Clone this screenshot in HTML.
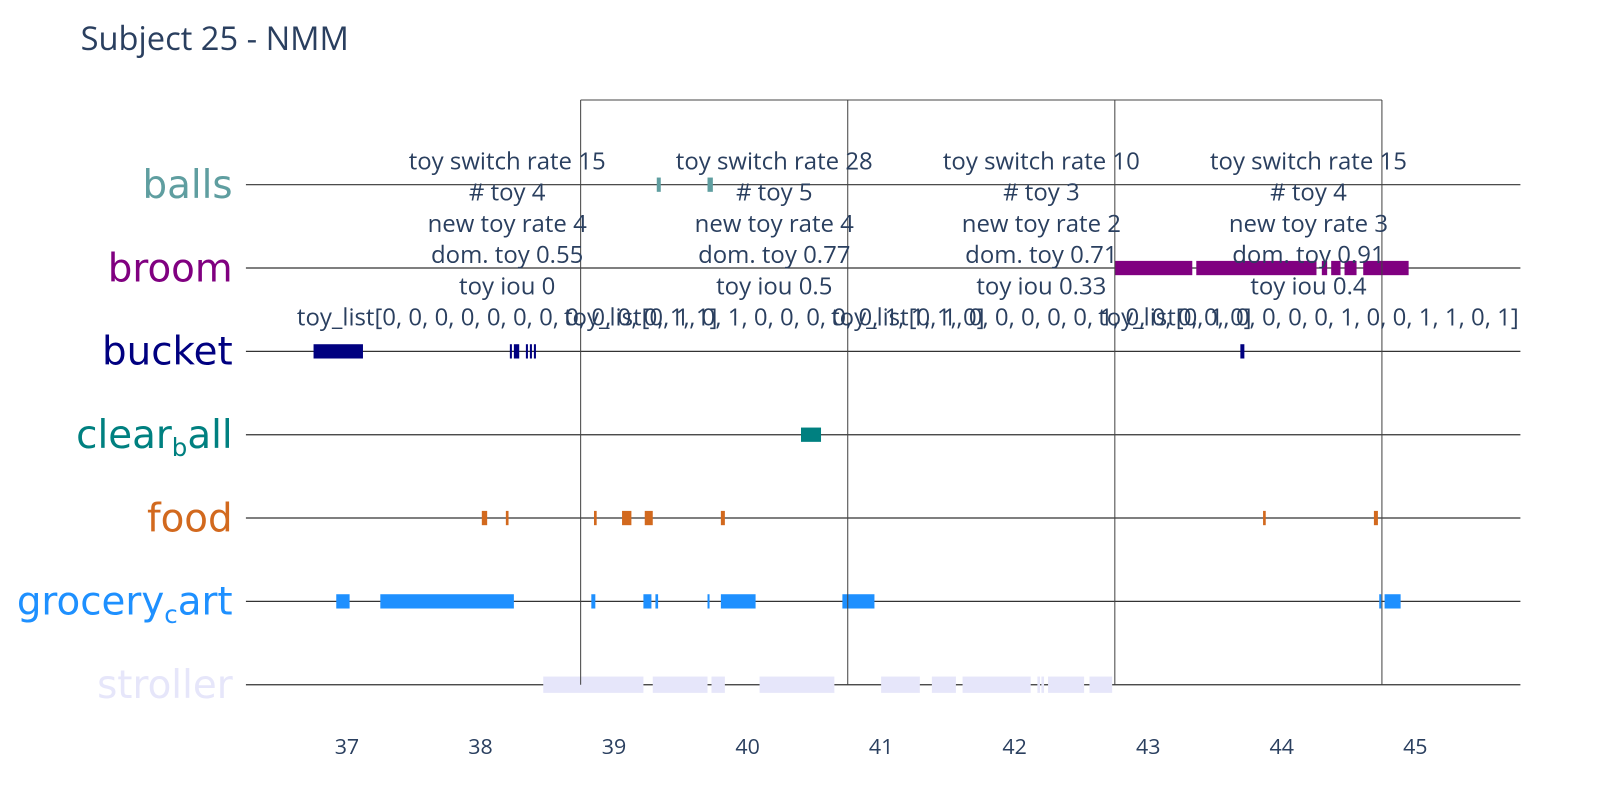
<!DOCTYPE html>
<html><head><meta charset="utf-8">
<style>
body{margin:0;background:#fff;}
svg{display:block;font-family:"Open Sans","Liberation Sans","DejaVu Sans",sans-serif;}
</style></head>
<body>
<svg id="chart" width="1600" height="800" viewBox="0 0 1568 784" xmlns="http://www.w3.org/2000/svg">
<text x="79" y="49" font-size="32" fill="#2a3f5f">Subject 25 - NMM</text>
<g id="grid"></g>
<g id="bars"></g>
<g id="boxes"></g>
<g id="annots"></g>
<g id="ylabels"></g>
<g id="xticks"></g>
</svg>
<script>
const categories = ["balls","broom","bucket","clear_ball","food","grocery_cart","stroller"];
const catColors = ["#5f9ea0","#800080","#000080","#008080","#d2691e","#1e90ff","#e6e6fa"];
const ballsSegs = [[39.32,39.35],[39.70,39.74]];
const broomSegs = [[42.75,43.33],[43.36,44.26],[44.30,44.34],[44.37,44.44],[44.47,44.56],[44.61,44.95]];
const bucketSegs = [[36.75,37.12],[38.22,38.23],[38.25,38.29],[38.34,38.35],[38.37,38.38],[38.40,38.41],[43.69,43.72]];
const clearBallSegs = [[40.40,40.55]];
const foodSegs = [[38.01,38.05],[38.19,38.21],[38.85,38.87],[39.06,39.13],[39.23,39.29],[39.80,39.83],[43.86,43.88],[44.69,44.72]];
const grocerySegs = [[36.92,37.02],[37.25,38.25],[38.83,38.86],[39.22,39.28],[39.31,39.33],[39.70,39.71],[39.80,40.06],[40.71,40.95],[44.73,44.74],[44.77,44.89]];
const strollerSegs = [[38.47,39.22],[39.29,39.70],[39.73,39.83],[40.09,40.65],[41.00,41.29],[41.38,41.56],[41.61,42.12],[42.17,42.19],[42.20,42.22],[42.25,42.52],[42.56,42.73]];
const allSegs = [ballsSegs,broomSegs,bucketSegs,clearBallSegs,foodSegs,grocerySegs,strollerSegs];
const xTicks = [37,38,39,40,41,42,43,44,45];
const windowEdges = [38.75,40.75,42.75,44.75];
const annotX = [38.2,40.2,42.2,44.2];
const switchRates = [15,28,10,15];
const toyCounts = [4,5,3,4];
const newToyRates = [4,4,2,3];
const domToy = [0.55,0.77,0.71,0.91];
const toyIou = ["0","0.5","0.33","0.4"];
const toyLists = ["[0, 0, 0, 0, 0, 0, 0, 0, 0, 0, 0, 1, 1]","[0, 1, 0, 1, 0, 0, 0, 0, 0, 1, 1, 1, 0]","[0, 1, 0, 0, 0, 0, 0, 1, 0, 0, 0, 0, 0]","[0, 1, 0, 0, 0, 0, 1, 0, 0, 1, 1, 0, 1]"];

const NS="http://www.w3.org/2000/svg";
const xScale = v => 340 + (v-37)*130.875;
const yScale = i => 181 + i*81.67;
const X0=241, X1=1490;
function mk(tag, attrs, parent){const e=document.createElementNS(NS,tag);for(const k in attrs)e.setAttribute(k,attrs[k]);parent.appendChild(e);return e;}
const grid=document.getElementById('grid'), bars=document.getElementById('bars'), boxes=document.getElementById('boxes'), annots=document.getElementById('annots'), yl=document.getElementById('ylabels'), xt=document.getElementById('xticks');

categories.forEach((c,i)=>{
  const l=mk('line',{x1:X0,x2:X1,y1:yScale(i),y2:yScale(i),stroke:'#333','stroke-width':1.2},grid);
  
  
  const h = i===6 ? 16 : 14;
  allSegs[i].forEach((s,j)=>{
    const r=mk('rect',{x:xScale(s[0]),y:yScale(i)-h/2,width:Math.max(2,xScale(s[1])-xScale(s[0])),height:h,fill:catColors[i]},bars);
    
    
  });
  const t=mk('text',{x:228,y:yScale(i)+13,'text-anchor':'end','font-size':38,fill:catColors[i],'font-family':'"DejaVu Sans","Liberation Sans",sans-serif'},yl);
  
  
  if(c.includes('_')){
    const p=c.split('_');
    t.appendChild(document.createTextNode(p[0]));
    const sub=mk('tspan',{'font-size':24,dy:8},t); sub.textContent=p[1][0];
    const rest=mk('tspan',{dy:-8},t); rest.textContent=p[1].slice(1);
  } else t.textContent=c;
});

const topY=98, botY=yScale(6);
const tl=mk('line',{x1:xScale(windowEdges[0]),x2:xScale(windowEdges[3]),y1:topY,y2:topY,stroke:'#444','stroke-width':1},boxes);


windowEdges.forEach((w,k)=>{
  const l=mk('line',{x1:xScale(w),x2:xScale(w),y1:topY,y2:botY,stroke:'#444','stroke-width':1},boxes);
  
  
});

annotX.forEach((a,k)=>{
  const lines=["toy switch rate "+switchRates[k],"# toy "+toyCounts[k],"new toy rate "+newToyRates[k],"dom. toy "+domToy[k],"toy iou "+toyIou[k],"toy_list"+toyLists[k]];
  lines.forEach((s,m)=>{
    const t=mk('text',{x:xScale(a),y:166+m*30.6,'text-anchor':'middle','font-size':23.5,fill:'#2a3f5f'},annots);
    t.textContent=s;
    
    
  });
});

xTicks.forEach(v=>{
  const t=mk('text',{x:xScale(v),y:739,'text-anchor':'middle','font-size':21,fill:'#2a3f5f'},xt);
  t.textContent=v;
  
  
});
</script>
</body></html>
